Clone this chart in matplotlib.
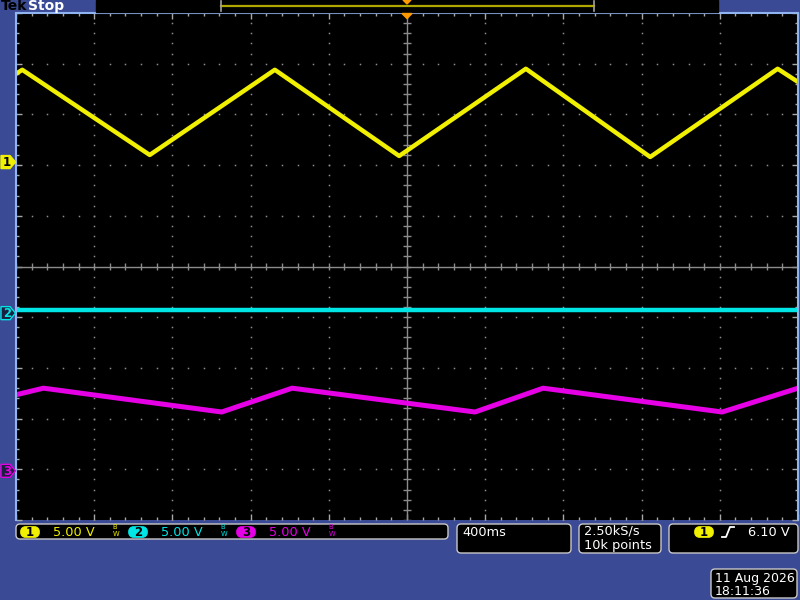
import numpy as np
import matplotlib
matplotlib.use("Agg")
import matplotlib.pyplot as plt
from matplotlib.patches import Polygon, FancyBboxPatch, Rectangle
from matplotlib.ticker import MultipleLocator

# trace vertices (x in divisions, y in divisions)
ch1_t = [0.0, 0.08, 1.71, 3.31, 4.90, 6.52, 8.11, 9.74, 10.0]
ch1_v = [3.80, 3.88, 2.20, 3.88, 2.18, 3.90, 2.16, 3.90, 3.64]
ch2_t = [0.0, 10.0]
ch2_v = [-0.85, -0.85]
ch3_t = [0.0, 0.35, 2.63, 3.53, 5.87, 6.74, 9.03, 10.0]
ch3_v = [-2.53, -2.40, -2.87, -2.40, -2.87, -2.40, -2.87, -2.40]

ch_names = ["1", "2", "3"]
ch_scales = ["5.00 V", "5.00 V", "5.00 V"]
ch_ground = [2.06, -0.92, -4.03]
timebase = "400ms"
sample_rate = "2.50kS/s"
record_len = "10k points"
trig_level = "6.10 V"
date_str = "11 Aug 2026"
time_str = "18:11:36"

YEL = "#f0f000"
CYN = "#00e6e6"
MAG = "#e600e6"
BG = "#3b4a94"
GRID = "#8c8c8c"
EDGE = "#8fb4f0"

fig = plt.figure(figsize=(8, 6), dpi=100, facecolor=BG)

# graticule area
ax = fig.add_axes([16 / 800, 80 / 600, 782 / 800, 507 / 600], facecolor="black")
ax.set_xlim(0, 10)
ax.set_ylim(-5, 5)
ax.xaxis.set_major_locator(MultipleLocator(1))
ax.yaxis.set_major_locator(MultipleLocator(1))
ax.xaxis.set_minor_locator(MultipleLocator(0.2))
ax.yaxis.set_minor_locator(MultipleLocator(0.2))
ax.tick_params(which="both", direction="in", top=True, right=True,
               labelbottom=False, labelleft=False, colors="#a8a8a8")
ax.tick_params(which="major", length=4.5, width=1)
ax.tick_params(which="minor", length=2.3, width=1)
for s in ["top", "left", "right"]:
    ax.spines[s].set_color(EDGE)
    ax.spines[s].set_linewidth(1.5)
ax.spines["bottom"].set_visible(False)

# dotted grid
dots = np.arange(0, 10.001, 0.2)
for gx in [1, 2, 3, 4, 6, 7, 8, 9]:
    ax.plot(np.full(dots.size, gx), dots - 5, ls="none", marker="s", ms=1.1,
            color=GRID, mew=0)
for gy in [-4, -3, -2, -1, 1, 2, 3, 4]:
    ax.plot(dots, np.full(dots.size, gy), ls="none", marker="s", ms=1.1,
            color=GRID, mew=0)
# center cross with ticks
ax.axhline(0, color=GRID, lw=1)
ax.axvline(5, color=GRID, lw=1)
ax.vlines(dots, -0.07, 0.07, color=GRID, lw=1)
ax.hlines(dots - 5, 5 - 0.045, 5 + 0.045, color=GRID, lw=1)

# traces
ax.plot(ch2_t, ch2_v, color=CYN, lw=3.2, solid_capstyle="butt")
ax.plot(ch3_t, ch3_v, color=MAG, lw=3.6, solid_capstyle="butt")
ax.plot(ch1_t, ch1_v, color=YEL, lw=3.2, solid_capstyle="butt")

# overlay in pixel coordinates for the scope chrome
ov = fig.add_axes([0, 0, 1, 1], zorder=5)
ov.set_xlim(0, 800)
ov.set_ylim(600, 0)
ov.axis("off")
ov.patch.set_visible(False)

ov.text(0.5, 6, "Tek", color="black", fontsize=10, fontweight="bold", va="center")
ov.text(28, 6, "Stop", color="white", fontsize=10, fontweight="bold", va="center")
ov.add_patch(Rectangle((96, 0), 622, 11.5, color="black"))
ov.plot([221, 594], [6, 6], color="#b0a800", lw=1.6)
ov.plot([221, 221], [0.5, 11], color="#a0a0a0", lw=1.2)
ov.plot([594, 594], [0.5, 11], color="#a0a0a0", lw=1.2)
ov.add_patch(Polygon([(403, 0), (411, 0), (407, 4)], color="#ff9a00"))
ov.add_patch(Polygon([(402, 13.5), (412, 13.5), (407, 18.5)], color="#ff9a00"))

# channel ground markers
cols = [YEL, CYN, MAG]
for name, g, c, sel in zip(ch_names, ch_ground, cols, [True, False, False]):
    py = 266.5 - g * 50.7
    pts = [(1, py - 6.5), (10, py - 6.5), (15.5, py), (10, py + 6.5), (1, py + 6.5)]
    if sel:
        ov.add_patch(Polygon(pts, fc=c, ec=c, lw=1))
        ov.text(7, py + 0.5, name, color="black", fontsize=8.5, fontweight="bold",
                ha="center", va="center")
    else:
        ov.add_patch(Polygon(pts, fc="#1b2040", ec=c, lw=1))
        ov.text(7, py + 0.5, name, color=c, fontsize=8.5, fontweight="bold",
                ha="center", va="center")


def box(x0, y0, x1, y1):
    ov.add_patch(FancyBboxPatch((x0, y0), x1 - x0, y1 - y0,
                                boxstyle="round,pad=0,rounding_size=4",
                                fc="black", ec="#c8c8c8", lw=1))


def pill(x, y, label, c):
    ov.add_patch(FancyBboxPatch((x - 9.5, y - 5.5), 19, 11,
                                boxstyle="round,pad=0,rounding_size=5.5",
                                fc=c, ec=c, lw=0.5))
    ov.text(x, y + 0.5, label, color="black", fontsize=8.5, fontweight="bold",
            ha="center", va="center")


def bw(x, y, c):
    ov.text(x, y, r"$^{\mathrm{B}}_{\mathrm{W}}$", color=c, fontsize=7,
            ha="center", va="center")


# bottom status boxes
box(16, 524, 448, 539)
for i, (name, sc, c) in enumerate(zip(ch_names, ch_scales, cols)):
    x = 30 + i * 108
    pill(x, 532, name, c)
    ov.text(x + 23, 532, sc, color=c, fontsize=9.3, va="center")
    bw(x + 86, 531, c)

box(457, 524, 571, 553)
ov.text(462, 532, timebase, color="white", fontsize=9.3, va="center")

box(579, 524, 661, 553)
ov.text(584, 531.5, sample_rate, color="white", fontsize=9.3, va="center")
ov.text(584, 545.5, record_len, color="white", fontsize=9.3, va="center")

box(669, 524, 798, 553)
pill(704, 532, "1", YEL)
ov.plot([722, 726, 730, 734], [537, 537, 527, 527], color="white", lw=1.3)
ov.text(790, 532, trig_level, color="white", fontsize=9.3, va="center", ha="right")

box(711, 569, 797, 598)
ov.text(715, 578.5, date_str, color="white", fontsize=9, va="center")
ov.text(715, 591.5, time_str, color="white", fontsize=9, va="center")

fig.savefig("out.png", dpi=100, facecolor=BG)
